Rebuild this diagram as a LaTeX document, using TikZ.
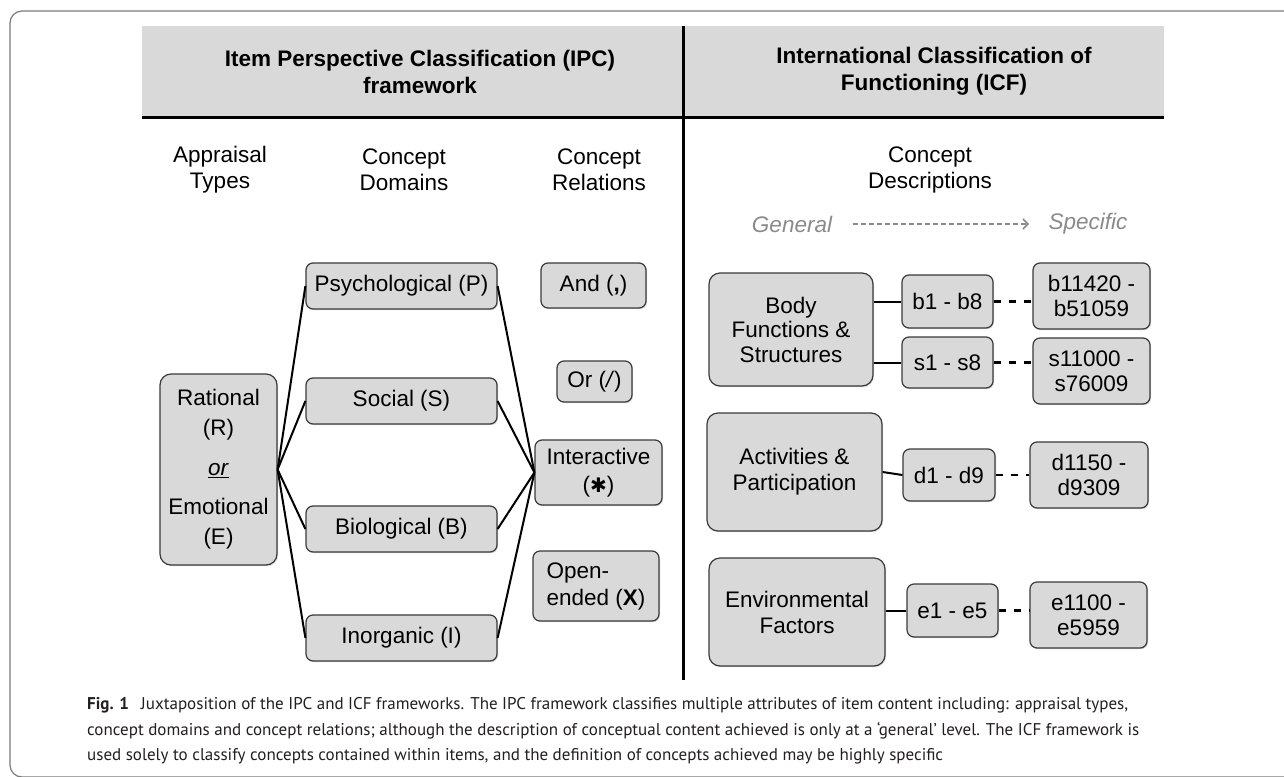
\documentclass[tikz,border=0pt]{standalone}
\usepackage{fontspec}
\setmainfont{Liberation Sans}
\newfontfamily\capfont{PT Sans}
\newfontfamily\symfont{DejaVu Sans}
\usetikzlibrary{arrows.meta,shadows}

\definecolor{boxfill}{HTML}{D9D9D9}
\definecolor{boxline}{HTML}{3A3A3A}
\definecolor{framegray}{HTML}{7A7A7A}
\definecolor{trendgray}{HTML}{8A8A8A}
\definecolor{captext}{HTML}{231F20}

\tikzset{
  box/.style={draw=boxline, fill=boxfill, line width=1.2pt, rounded corners=7pt,
    align=center, inner sep=0pt, font=\fontsize{22.5}{26}\selectfont,
    drop shadow={shadow xshift=1pt, shadow yshift=-1.2pt, opacity=0.3}},
  bigbox/.style={box, rounded corners=11pt},
  colhead/.style={align=center, font=\fontsize{22.5}{26}\selectfont},
  title/.style={align=center, font=\fontsize{22.5}{27}\selectfont\bfseries},
  link/.style={line width=2pt},
  dotlink/.style={line width=2.2pt, dash pattern=on 7pt off 8pt},
  trend/.style={trendgray, line width=1.6pt, dash pattern=on 5pt off 3pt,
    -{Straight Barb[length=5pt,width=10pt]}},
  caption/.style={anchor=west, inner sep=0pt, text=captext,
    font=\capfont\fontsize{17}{24}\selectfont},
}

\begin{document}
\begin{tikzpicture}[x=1pt,y=-1pt]
\useasboundingbox (0,0) rectangle (1284,776);
\fill[white] (0,0) rectangle (1284,776);
\draw[framegray, line width=1.2pt, rounded corners=12pt] (10,11) rectangle (1300,777);

% header band and the two halves
\fill[boxfill] (142,26) rectangle (1164,117);
\draw[line width=3pt] (142,117) -- (1164,117);
\draw[line width=3pt] (683,26) -- (683,680);
\node[title] (ipc) at (420,71.5) {Item Perspective Classification (IPC)\\framework};
\node[title] (icf) at (934,71.5) {International Classification of\\Functioning (ICF)};

% column headings
\node[colhead] (htypes) at (220,170) {Appraisal\\Types};
\node[colhead] (hdomains) at (404,170) {Concept\\Domains};
\node[colhead] (hrel) at (599,170) {Concept\\Relations};
\node[colhead] (hdesc) at (930,170) {Concept\\Descriptions};

\node[colhead, text=trendgray] (general) at (792,224) {\itshape General};
\node[colhead, text=trendgray] (specific) at (1088,224) {\itshape Specific};
\draw[trend, shorten <=17pt, shorten >=16pt] (general) -- (specific);

% IPC boxes
\node[bigbox, minimum width=117pt, minimum height=191pt, font=\fontsize{22.5}{30}\selectfont]
  (rat) at (218.5,469.5) {Rational\\(R)\\[10pt]\underline{\textit{or}}\\[9pt]Emotional\\(E)};
\node[box, minimum width=191pt, minimum height=46pt] (psy) at (401.5,286) {Psychological (P)};
\node[box, minimum width=191pt, minimum height=46pt] (soc) at (401.5,401) {Social (S)};
\node[box, minimum width=191pt, minimum height=46pt] (bio) at (401.5,529) {Biological (B)};
\node[box, minimum width=191pt, minimum height=46pt] (ino) at (401.5,638) {Inorganic (I)};

\node[box, minimum width=105pt, minimum height=45pt] (and) at (593.5,285.5) {And (\textbf{,})};
\node[box, minimum width=75pt, minimum height=41pt] (or) at (594.5,381.5) {Or (\textit{/})};
\node[box, minimum width=127pt, minimum height=65pt, font=\fontsize{22.5}{28}\selectfont]
  (int) at (598.5,472.5) {Interactive\\({\symfont\fontsize{20}{20}\selectfont ✱})};
\node[box, minimum width=126pt, minimum height=70pt, align=left, font=\fontsize{22.5}{27}\selectfont]
  (ope) at (596,586) {Open-\\ended (\textbf{X})};

\foreach \d in {psy,soc,bio,ino}{
  \draw[link] (rat.east) -- (\d.west);
  \draw[link] (\d.east) -- (int.west);
}

% ICF boxes
\node[bigbox, minimum width=164pt, minimum height=113pt, font=\fontsize{22.5}{24.5}\selectfont]
  (body) at (791,329.5) {Body\\Functions \&\\Structures};
\node[bigbox, minimum width=175pt, minimum height=118pt] (act) at (794.5,472) {Activities \&\\Participation};
\node[bigbox, minimum width=176pt, minimum height=108pt] (env) at (797,612) {Environmental\\Factors};

\node[box, minimum width=91pt, minimum height=53pt] (bgen) at (947.5,301.5) {b1 - b8};
\node[box, minimum width=91pt, minimum height=51pt] (sgen) at (947.5,362.5) {s1 - s8};
\node[box, minimum width=92pt, minimum height=52pt] (dgen) at (949,475) {d1 - d9};
\node[box, minimum width=91pt, minimum height=53pt] (egen) at (952.5,610.5) {e1 - e5};

\node[box, minimum width=117pt, minimum height=66pt, font=\fontsize{22.5}{25}\selectfont] (bspec) at (1091.5,296) {b11420 -\\b51059};
\node[box, minimum width=117pt, minimum height=66pt, font=\fontsize{22.5}{25}\selectfont] (sspec) at (1091.5,371) {s11000 -\\s76009};
\node[box, minimum width=118pt, minimum height=66pt, font=\fontsize{22.5}{25}\selectfont] (dspec) at (1089,475) {d1150 -\\d9309};
\node[box, minimum width=117pt, minimum height=66pt, font=\fontsize{22.5}{25}\selectfont] (espec) at (1088.5,615) {e1100 -\\e5959};

\draw[link] (bgen.west -| body.east) -- (bgen.west);
\draw[link] (sgen.west -| body.east) -- (sgen.west);
\draw[link] (act.east) -- (dgen.west);
\draw[link] (egen.west -| env.east) -- (egen.west);

\foreach \g/\s in {bgen/bspec,sgen/sspec,dgen/dspec,egen/espec}
  \draw[dotlink] (\g.east) -- (\g.east -| \s.west);

% caption
\node[caption] (cap1) at (87,705) {\textbf{Fig. 1}\hspace{0.7em}Juxtaposition of the IPC and ICF frameworks. The IPC framework classifies multiple attributes of item content including: appraisal types,};
\node[caption] (cap2) at (87,731) {concept domains and concept relations; although the description of conceptual content achieved is only at a ‘general’ level. The ICF framework is};
\node[caption] (cap3) at (87,756) {used solely to classify concepts contained within items, and the definition of concepts achieved may be highly specific};
\end{tikzpicture}
\end{document}
